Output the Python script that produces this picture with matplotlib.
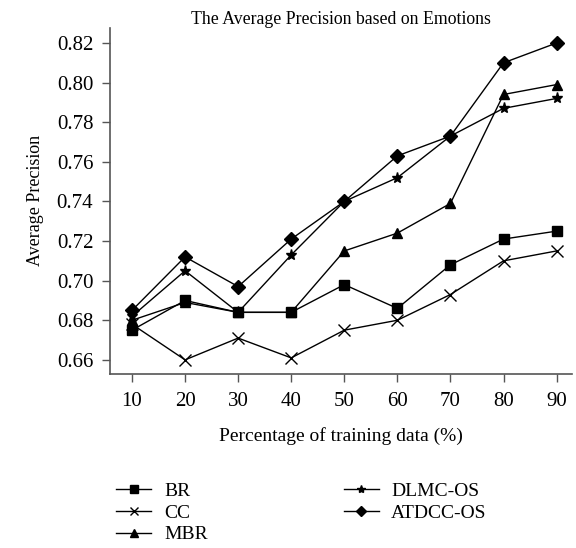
import numpy as np
import matplotlib.pyplot as plt

plt.rcParams['font.family'] = ['Liberation Serif', 'DejaVu Serif']

pct = [10, 20, 30, 40, 50, 60, 70, 80, 90]
br = [0.675, 0.690, 0.684, 0.684, 0.698, 0.686, 0.708, 0.721, 0.725]
cc = [0.678, 0.660, 0.671, 0.661, 0.675, 0.680, 0.693, 0.710, 0.715]
mbr = [0.680, 0.689, 0.684, 0.684, 0.715, 0.724, 0.739, 0.794, 0.799]
dlmc = [0.682, 0.705, 0.684, 0.713, 0.740, 0.752, 0.773, 0.787, 0.792]
atdcc = [0.685, 0.712, 0.697, 0.721, 0.740, 0.763, 0.773, 0.810, 0.820]
yticks = [0.66, 0.68, 0.70, 0.72, 0.74, 0.76, 0.78, 0.80, 0.82]

fig = plt.figure(figsize=(5.76, 5.48), dpi=100)
ax = fig.add_axes([0.191, 0.318, 0.802, 0.631])

kw = dict(color='black', lw=1.0)
ax.plot(pct, br, marker='s', ms=7, label='BR', **kw)
ax.plot(pct, cc, marker='x', ms=8, mew=1.0, label='CC', **kw)
ax.plot(pct, mbr, marker='^', ms=7, label='MBR', **kw)
ax.plot(pct, dlmc, marker='*', ms=8, label='DLMC-OS', **kw)
ax.plot(pct, atdcc, marker='D', ms=7, label='ATDCC-OS', **kw)

ax.set_xlim(5.86, 92.9)
ax.set_ylim(0.653, 0.8276)
ax.set_xticks(pct)
ax.set_yticks(yticks)
ax.set_yticklabels(['%.2f' % v for v in yticks])
ax.spines['top'].set_visible(False)
ax.spines['right'].set_visible(False)
for s in ('left', 'bottom'):
    ax.spines[s].set_color('#555555')
    ax.spines[s].set_linewidth(1.2)
ax.tick_params(direction='out', length=6, width=1.0, color='#555555', labelsize=15)
ax.tick_params(axis='x', pad=7)
ax.tick_params(axis='y', pad=6)

ax.set_title('The Average Precision based on Emotions', fontsize=12.8, pad=2)
ax.set_ylabel('Average Precision', fontsize=13, labelpad=9)
ax.set_xlabel('Percentage of training data (%)', fontsize=14, labelpad=12)

fig.legend(*ax.get_legend_handles_labels(), loc='upper left',
           bbox_to_anchor=(0.185, 0.138), ncol=2, frameon=False,
           fontsize=14, handlelength=1.8, handletextpad=0.65,
           columnspacing=7.0, labelspacing=0.22, borderpad=0,
           markerscale=0.75)

fig.savefig('out.png', dpi=100)
